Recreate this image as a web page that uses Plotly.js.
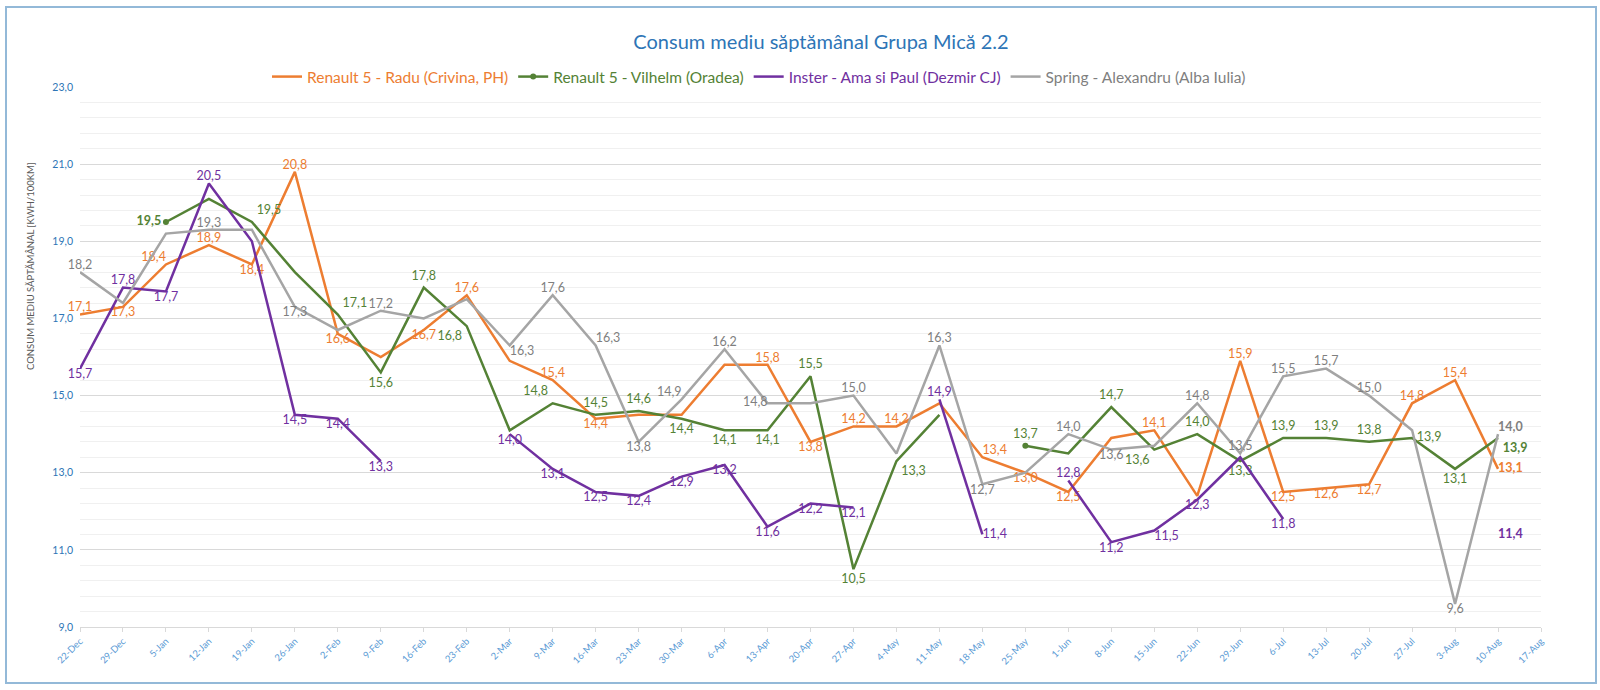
<!DOCTYPE html>
<html><head><meta charset="utf-8">
<script src="https://cdn.plot.ly/plotly-3.0.1.min.js"></script>
<style>
body{margin:0;background:#fff}
#wrap{position:relative;width:1600px;height:690px}
#chart{width:1600px;height:690px}
#frame{position:absolute;left:5px;top:6px;width:1588px;height:674px;border:2px solid #93b9d8;pointer-events:none}
</style>
</head><body><div id="wrap"><div id="chart"></div><div id="frame"></div></div>
<script>
const dates = ['22-Dec','29-Dec','5-Jan','12-Jan','19-Jan','26-Jan','2-Feb','9-Feb','16-Feb','23-Feb','2-Mar','9-Mar','16-Mar','23-Mar','30-Mar','6-Apr','13-Apr','20-Apr','27-Apr','4-May','11-May','18-May','25-May','1-Jun','8-Jun','15-Jun','22-Jun','29-Jun','6-Jul','13-Jul','20-Jul','27-Jul','3-Aug','10-Aug','17-Aug'];

const radu    = [17.1,17.3,18.4,18.9,18.4,20.8,16.6,16.0,16.7,17.6, 15.9,15.4,14.4,14.5,14.5,15.8,15.8,13.8,14.2,14.2, 14.8,13.4,13.0,12.5,13.9,14.1,12.4,15.9,12.5,12.6, 12.7,14.8,15.4,13.1,null];
const vilhelm = [null,null,19.5,20.1,19.5,18.2,17.1,15.6,17.8,16.8, 14.1,14.8,14.5,14.6,14.4,14.1,14.1,15.5,10.5,13.3, 14.5,null,13.7,13.5,14.7,13.6,14.0,13.3,13.9,13.9, 13.8,13.9,13.1,13.9,null];
const inster  = [15.7,17.8,17.7,20.5,19.0,14.5,14.4,13.3,null,null, 14.0,13.1,12.5,12.4,12.9,13.2,11.6,12.2,12.1,null, 14.9,11.4,null,12.8,11.2,11.5,12.3,13.4,11.8,null, null,null,null,11.4,null];
const spring  = [18.2,17.4,19.2,19.3,19.3,17.3,16.7,17.2,17.0,17.5, 16.3,17.6,16.3,13.8,14.9,16.2,14.8,14.8,15.0,13.5, 16.3,12.7,13.0,14.0,13.6,13.7,14.8,13.5,15.5,15.7, 15.0,14.1,9.6,14.0,null];

// data-label placement codes ('' = no label, '!' = bold)
const raduPos    = ['T','B','TL','T','B','T','B','','B','T', '','T','B','','','','T','B','T','T', '','TR','B','B','','T','','T','B','B', 'B','T','T','R!',''];
const vilhelmPos = ['','','L!','','TR','','TR','B','T','BL', '','TL','T','T','B','B','B','T','B','BR', '','','T','','T','BL','T','B','T','T', 'T','R','B','BR!',''];
const insterPos  = ['B','T','B','T','','B','B','B','','', 'B','B','B','B','B','B','B','B','B','', 'T','R','','T','B','BR','B','','B','', '','','','R!',''];
const springPos  = ['T','','','T','','B','','T','','', 'BR','T','TR','B','TL','T','L','','T','', 'T','B','','T','B','','T','T','T','T', 'T','','B','TR!',''];

const C = {orange:'#ed7d31', green:'#548235', purple:'#7030a0', gray:'#a5a5a5', grayText:'#7f7f7f'};
const POS = {T:'top center',B:'bottom center',L:'middle left',R:'middle right',TL:'top left',TR:'top right',BL:'bottom left',BR:'bottom right'};
function fmt(v){ return v.toFixed(1).replace('.', ','); }
function labels(vals,pos){
  return vals.map((v,i)=>{ const p=pos[i]; if(!p || v==null) return ''; const s=fmt(v); return p.endsWith('!') ? '<b>'+s+'</b>' : s; });
}
function positions(pos){ return pos.map(p => POS[p.replace('!','')] || 'middle center'); }

function series(name, vals, pos, lineColor, textColor, extra){
  return Object.assign({
    type:'scatter', mode:'lines+text', x:dates, y:vals,
    name:'<span style="color:'+textColor+'">'+name+'</span>',
    line:{color:lineColor, width:2.5},
    text:labels(vals,pos), textposition:positions(pos),
    textfont:{family:'Lato', size:12.5, color:textColor},
    cliponaxis:false, hoverinfo:'skip', connectgaps:false
  }, extra || {});
}

const greenMarkers = vilhelm.map((v,i)=> (v==null || (i>0 && vilhelm[i-1]==null)) ? C.green : 'rgba(0,0,0,0)');

const traces = [
  series('Renault 5 - Radu (Crivina, PH)', radu, raduPos, C.orange, C.orange),
  series('Renault 5 - Vilhelm (Oradea)', vilhelm, vilhelmPos, C.green, C.green,
         {mode:'lines+markers+text', marker:{size:6, color:greenMarkers}}),
  series('Inster - Ama si Paul (Dezmir CJ)', inster, insterPos, C.purple, C.purple),
  series('Spring - Alexandru (Alba Iulia)', spring, springPos, C.gray, C.grayText)
];

const layout = {
  width:1600, height:690,
  margin:{l:80, r:59, t:87, b:63},
  paper_bgcolor:'#ffffff', plot_bgcolor:'#ffffff',
  font:{family:'Lato, "Open Sans", sans-serif'},
  separators:',.',
  title:{text:'Consum mediu săptămânal Grupa Mică 2.2', font:{size:20, color:'#2e75b6'},
         x:821/1600, xref:'container', xanchor:'center', y:1-42/690, yref:'container', yanchor:'middle'},
  showlegend:true,
  legend:{orientation:'h', x:0.128, xanchor:'left', y:1.0185, yanchor:'middle', font:{size:15.5}, bgcolor:'rgba(0,0,0,0)'},
  xaxis:{type:'category', categoryorder:'array', categoryarray:dates, range:[0,34], tickangle:-45,
         tickfont:{size:9.5, color:'#5b9bd5'}, showgrid:false, showline:true, linecolor:'#d9d9d9', linewidth:1,
         ticks:'outside', ticklen:4, tickcolor:'#d9d9d9', zeroline:false, fixedrange:true},
  yaxis:{range:[9,23], tick0:9, dtick:2, tickformat:'.1f', tickfont:{size:10.5, color:'#2e75b6'},
         gridcolor:'#d9d9d9', zeroline:false, showline:false, ticks:'', ticklabelstandoff:6, fixedrange:true,
         minor:{tick0:9, dtick:0.4, showgrid:true, gridcolor:'#f0f0f0', ticks:''}},
  annotations:[{text:'CONSUM MEDIU SĂPTĂMÂNAL [KWH/100KM]', xref:'paper', yref:'paper',
                x:(30-80)/1461, y:(627-266)/540, textangle:-90, showarrow:false,
                font:{size:9.5, color:'#595959'}, xanchor:'center', yanchor:'middle'}]
};

Plotly.newPlot('chart', traces, layout, {displayModeBar:false, staticPlot:true});
</script></body></html>
